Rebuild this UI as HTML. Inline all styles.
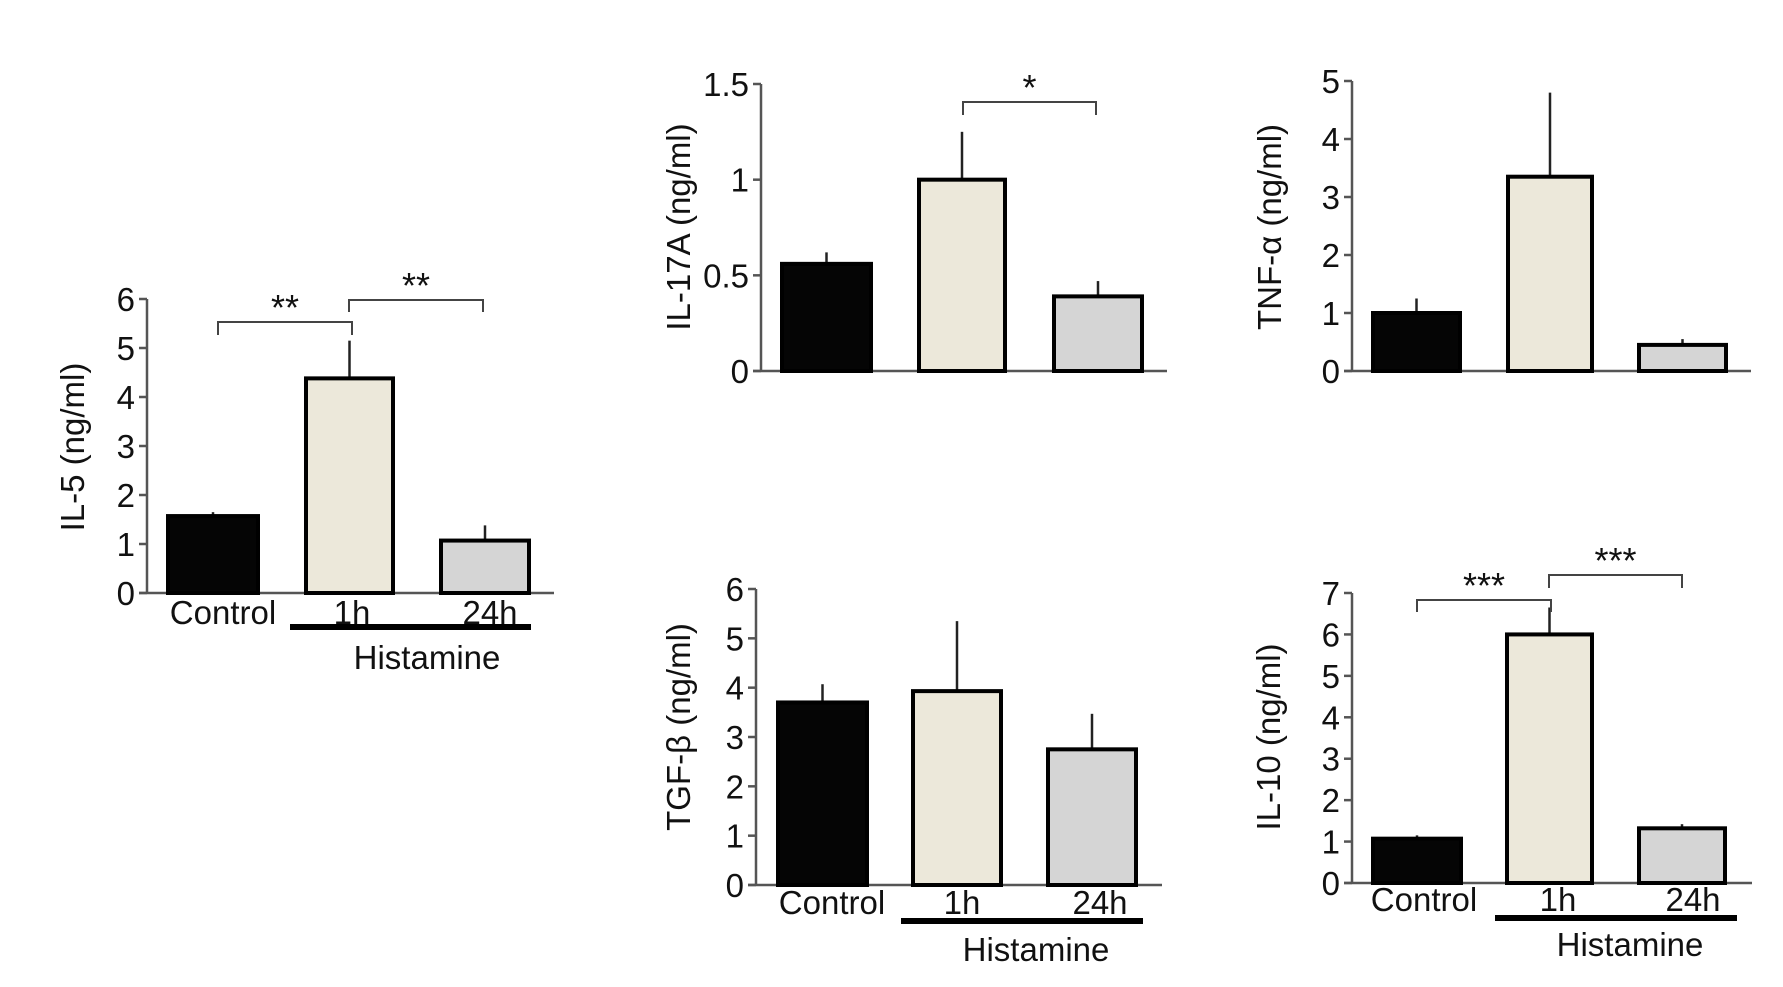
<!DOCTYPE html>
<html><head><meta charset="utf-8"><style>
html,body{margin:0;padding:0;background:#fff}
svg{display:block}
text{font-family:"Liberation Sans",sans-serif;fill:#111}
</style></head><body>
<svg id="fig" width="1783" height="987" viewBox="0 0 1783 987" xmlns="http://www.w3.org/2000/svg"></svg>
<script>
const categories = ["Control","1h","24h"];
const il5Values = [1.57, 4.38, 1.07];
const il5Errors = [1.65, 5.15, 1.38];
const il5Ticks = ["0","1","2","3","4","5","6"];
const il17Values = [0.56, 1.0, 0.39];
const il17Errors = [0.62, 1.25, 0.47];
const il17Ticks = ["0","0.5","1","1.5"];
const tnfValues = [1.0, 3.35, 0.45];
const tnfErrors = [1.25, 4.8, 0.55];
const tnfTicks = ["0","1","2","3","4","5"];
const tgfValues = [3.7, 3.93, 2.75];
const tgfErrors = [4.07, 5.35, 3.47];
const tgfTicks = ["0","1","2","3","4","5","6"];
const il10Values = [1.07, 6.0, 1.32];
const il10Errors = [1.15, 6.65, 1.42];
const il10Ticks = ["0","1","2","3","4","5","6","7"];

const NS = "http://www.w3.org/2000/svg";
const svg = document.getElementById('fig');
const fills = ["#050505","#ece8da","#d5d5d5"];
function mk(tag, attrs, parent){const e=document.createElementNS(NS,tag);for(const k in attrs)e.setAttribute(k,attrs[k]);(parent||svg).appendChild(e);return e;}

function panel(p){
  const g = mk('g',{});
  
  
  const ymax = parseFloat(p.ticks[p.ticks.length-1]);
  const y = v => p.y0 - (p.y0 - p.ytop) * v / ymax;
  const ax = mk('line',{x1:p.ax,y1:p.ytop,x2:p.ax,y2:p.y0,stroke:'#555','stroke-width':2.5},g);
  
  
  const xl = mk('line',{x1:p.ax-8,y1:p.y0,x2:p.xend,y2:p.y0,stroke:'#555','stroke-width':2.5},g);
  
  
  p.ticks.forEach(t=>{
    const v = parseFloat(t), yy = y(v);
    mk('line',{x1:p.ax-8,y1:yy,x2:p.ax,y2:yy,stroke:'#555','stroke-width':2.5},g);
    const tx = mk('text',{x:p.ax-12,y:yy+12,'text-anchor':'end','font-size':33},g);
    tx.textContent = t;
    
    
  });
  p.values.forEach((v,i)=>{
    const [l,r] = p.bars[i], cx=(l+r)/2;
    const er = mk('line',{x1:cx,y1:y(v),x2:cx,y2:y(p.errors[i]),stroke:'#222','stroke-width':2.5},g);
    
    
    const b = mk('rect',{x:l+2,y:y(v),width:r-l-4,height:p.y0-y(v),fill:fills[i],stroke:'#000','stroke-width':4},g);
    
    
  });
  const tt = mk('text',{x:0,y:0,'text-anchor':'middle','font-size':33,transform:`translate(${p.tx},${p.ty}) rotate(-90)`},g);
  tt.textContent = p.title;
  
  
  if(p.labels){
    const L=p.labels;
    [[L.c,'Control'],[L.h1,'1h'],[L.h24,'24h']].forEach(([x,s])=>{
      const t=mk('text',{x:x,y:L.base,'text-anchor':'middle','font-size':33},g);
      t.textContent=s;
      
      
    });
    const hb=mk('line',{x1:L.hb[0],y1:L.hb[2],x2:L.hb[1],y2:L.hb[2],stroke:'#000','stroke-width':6},g);
    
    
    const ht=mk('text',{x:L.hx,y:L.hy,'text-anchor':'middle','font-size':33},g);
    ht.textContent='Histamine';
    
    
  }
  (p.brackets||[]).forEach(bk=>{
    const pa=mk('path',{d:`M${bk[0]},${bk[3]} V${bk[2]} H${bk[1]} V${bk[3]}`,fill:'none',stroke:'#444','stroke-width':2},g);
    
    
    const st=mk('text',{x:(bk[0]+bk[1])/2,y:bk[2]-2,'text-anchor':'middle','font-size':36,fill:'#333'},g);
    st.textContent=bk[4];
    
    
  });
}

panel({name:'il5',values:il5Values,errors:il5Errors,ticks:il5Ticks,ax:147,y0:593,ytop:299,xend:554,
  bars:[[166,260],[304,395],[439,531]],title:'IL-5 (ng/ml)',tx:84,ty:447,
  labels:{c:223,h1:352,h24:490,base:624,hb:[290,531,627],hx:427,hy:669},
  brackets:[[218,352,322,335,'**'],[349,483,300,312,'**']]});
panel({name:'il17a',values:il17Values,errors:il17Errors,ticks:il17Ticks,ax:761,y0:371,ytop:84,xend:1167,
  bars:[[780,873],[917,1007],[1052,1144]],title:'IL-17A (ng/ml)',tx:690,ty:227,
  brackets:[[963,1096,102,115,'*']]});
panel({name:'tnf-alpha',values:tnfValues,errors:tnfErrors,ticks:tnfTicks,ax:1352,y0:371,ytop:81,xend:1751,
  bars:[[1371,1462],[1506,1594],[1637,1728]],title:'TNF-α (ng/ml)',tx:1281,ty:227});
panel({name:'tgf-beta',values:tgfValues,errors:tgfErrors,ticks:tgfTicks,ax:756,y0:885,ytop:589,xend:1162,
  bars:[[776,869],[911,1003],[1046,1138]],title:'TGF-β (ng/ml)',tx:690,ty:727,
  labels:{c:832,h1:962,h24:1100,base:914,hb:[901,1143,921],hx:1036,hy:961}});
panel({name:'il10',values:il10Values,errors:il10Errors,ticks:il10Ticks,ax:1352,y0:883,ytop:593,xend:1752,
  bars:[[1371,1463],[1505,1594],[1637,1727]],title:'IL-10 (ng/ml)',tx:1280,ty:737,
  labels:{c:1424,h1:1558,h24:1693,base:911,hb:[1495,1737,918],hx:1630,hy:956},
  brackets:[[1417,1551,600,612,'***'],[1549,1682,575,588,'***']]});
</script>
</body></html>
